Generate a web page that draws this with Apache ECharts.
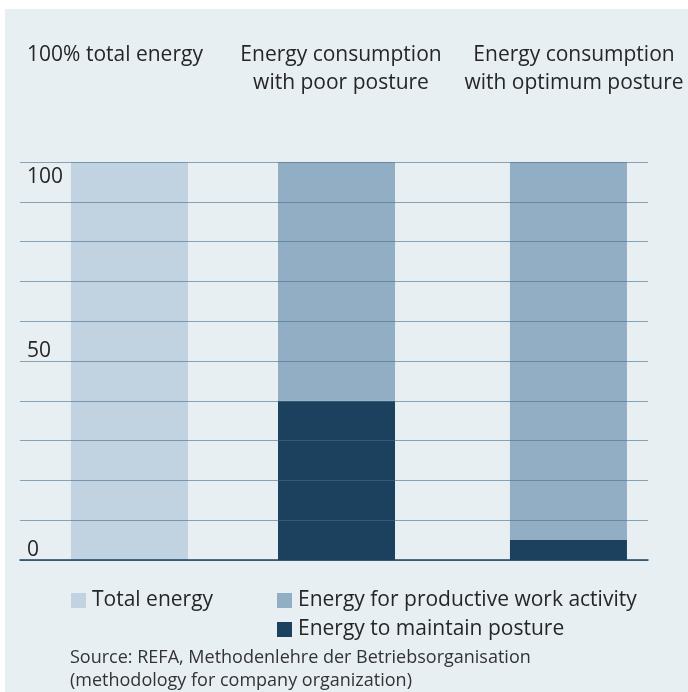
<!DOCTYPE html>
<html><head><meta charset="utf-8">
<script src="https://cdn.jsdelivr.net/npm/echarts@6/dist/echarts.min.js"></script>
<style>html,body{margin:0;padding:0;background:#fff}#c{width:688px;height:692px}</style>
</head><body><div id="c"></div>
<script>
const headers = ['100% total energy', 'Energy consumption\nwith poor posture', 'Energy consumption\nwith optimum posture'];
const barPositions = [0.523, 1.512, 2.62];
const totalEnergy = [100, 0, 0];
const postureEnergy = [0, 40, 5];
const productiveEnergy = [0, 60, 95];
const seriesNames = ['Total energy', 'Energy for productive work activity', 'Energy to maintain posture'];
const sourceText = 'Source: REFA, Methodenlehre der Betriebsorganisation\n(methodology for company organization)';

const FONT = 'Open Sans';
const colors = {bg:'#e8eff3', light:'#c1d2e1', mid:'#92aec4', dark:'#1b415e', text:'#262626'};
const chart = echarts.init(document.getElementById('c'), null, {renderer:'canvas'});

// stacked segments: [position, base, top]
const stackedSets = [postureEnergy, productiveEnergy, totalEnergy];
function segments(k) {
  return stackedSets[k].map((v, i) => {
    let base = 0;
    for (let j = 0; j < k; j++) base += stackedSets[j][i];
    return [barPositions[i], base, base + v];
  });
}
function renderBar(params, api) {
  const p0 = api.coord([api.value(0), api.value(1)]);
  const p1 = api.coord([api.value(0), api.value(2)]);
  const w = 117;
  if (Math.abs(p0[1] - p1[1]) < 0.01) return null;
  return {type:'rect', shape:{x:p0[0] - w / 2, y:p1[1], width:w, height:p0[1] - p1[1]}, style:{fill:api.visual('color')}};
}
const headerX = [115, 341, 574];
const legendText = {fontSize:21, lineHeight:16, color:colors.text, fontFamily:FONT, padding:[0,0,0,1]};
chart.setOption({
  backgroundColor: '#ffffff',
  animation: false,
  textStyle: {fontFamily: FONT},
  graphic: [
    {type:'rect', left:5, top:9, z:-100, shape:{x:0,y:0,width:683,height:683}, style:{fill:colors.bg}, silent:true},
    ...headers.map((h, i) => ({type:'text', x:headerX[i], y: 41, z:10, style:{text:h, fontFamily:FONT, fontSize:21, lineHeight:28, fill:colors.text, align:'center', verticalAlign:'top'}})),
    {type:'text', x:70, y:646, style:{text:sourceText, fontFamily:FONT, fontSize:18, lineHeight:23, fill:'#333', align:'left', verticalAlign:'top'}}
  ],
  grid: {left:20, right:40, top:162, bottom:132},
  xAxis: {type:'value', min:0, max:3, axisLine:{show:true, onZero:false, lineStyle:{color:colors.dark, width:1.5}}, axisTick:{show:false}, axisLabel:{show:false}, splitLine:{show:false}, z:4},
  yAxis: [
    {type:'value', min:0, max:100, interval:10, z:3,
      axisLine:{show:false}, axisTick:{show:false},
      splitLine:{show:true, lineStyle:{color:'rgba(70,110,140,0.6)', width:1}},
      axisLabel:{inside:true, margin:7, verticalAlign:'bottom', lineHeight:19, color:colors.text, fontSize:21, fontFamily:FONT,
        formatter: v => (v === 0 || v === 50) ? String(v) : ''}},
    {type:'value', min:0, max:100, interval:10, position:'left', z:3,
      axisLine:{show:false}, axisTick:{show:false}, splitLine:{show:false},
      axisLabel:{inside:true, margin:7, verticalAlign:'top', lineHeight:30, color:colors.text, fontSize:21, fontFamily:FONT,
        formatter: v => v === 100 ? '100' : ''}}
  ],
  legend: [
    {data:[seriesNames[0]], left:71, top:590, padding:0, itemWidth:15, itemHeight:15, icon:'rect', textStyle:legendText},
    {data:[seriesNames[1]], left:277, top:590, padding:0, itemWidth:15, itemHeight:15, icon:'rect', textStyle:legendText},
    {data:[seriesNames[2]], left:277, top:619, padding:0, itemWidth:15, itemHeight:15, icon:'rect', textStyle:legendText}
  ],
  series: [
    {name:seriesNames[2], type:'custom', renderItem:renderBar, encode:{x:0, y:[1,2]}, data:segments(0), itemStyle:{color:colors.dark}},
    {name:seriesNames[1], type:'custom', renderItem:renderBar, encode:{x:0, y:[1,2]}, data:segments(1), itemStyle:{color:colors.mid}},
    {name:seriesNames[0], type:'custom', renderItem:renderBar, encode:{x:0, y:[1,2]}, data:segments(2), itemStyle:{color:colors.light}}
  ]
});
</script></body></html>
